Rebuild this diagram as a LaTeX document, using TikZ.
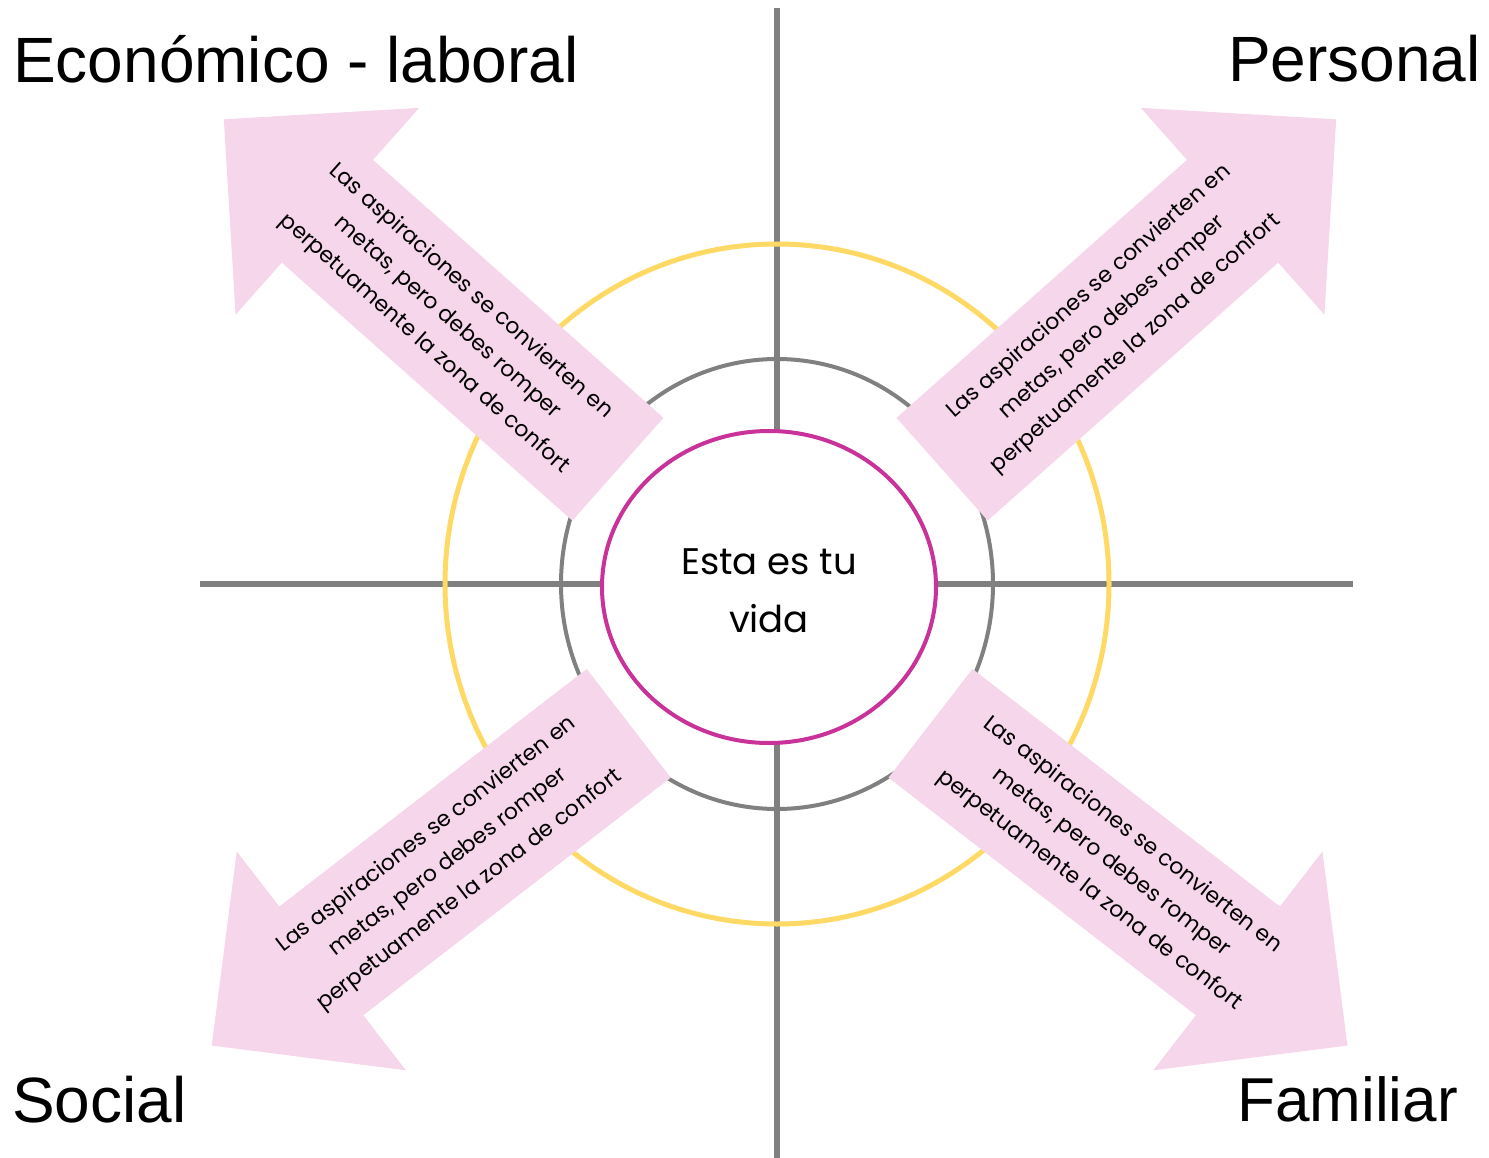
\documentclass[tikz,border=0pt]{standalone}
\usepackage{fontspec}
\setmainfont{Liberation Sans}
\newfontfamily\poppins{Poppins}
\definecolor{armpink}{RGB}{245,214,234}
\definecolor{ringgold}{RGB}{255,217,102}
\definecolor{ringgray}{RGB}{128,128,128}
\definecolor{coremagenta}{RGB}{200,50,153}
\tikzset{
  axisline/.style={ringgray, line width=6},
  armtext/.style={font=\poppins\fontsize{22}{35}\selectfont, align=center, inner sep=0},
  coretext/.style={font=\poppins\fontsize{37}{58}\selectfont, align=center, inner sep=0},
  areatext/.style={font=\fontsize{64}{70}\selectfont, inner sep=0}
}
\begin{document}
\begin{tikzpicture}[x=1pt, y=-1pt, line join=round]
\def\sw{68.7}   % half shaft width
\def\hw{138.3}  % half head width
\def\sl{388.5}  % shaft length
\def\al{527}    % whole length
\useasboundingbox (0,0) rectangle (1489,1158);
\path
(777,584) coordinate (O)
(769,587) coordinate (C)
(777,8) coordinate (N) (777,1158) coordinate (S)
(200,584) coordinate (W) (1353,584) coordinate (E)
;
% axes and rings
\draw[axisline] (N)--(S) (W)--(E);
\draw[ringgold, line width=5] (O) ellipse [x radius=332, y radius=340];
\draw[ringgray, line width=4] (O) ellipse [x radius=216, y radius=225];
% the four arrows
\foreach \x/\y/\r/\t/\n in {617.9/469.2/138.4/-41.6/armEL, 942.1/469.2/41.6/41.6/armPE,
  628.7/723.3/217.7/37.7/armSO, 930.5/723.3/-37.7/-37.7/armFA}
{
\begin{scope}[shift={(\x,\y)}, rotate=\r]
\fill[armpink] (0,-\sw)--(\sl,-\sw)--(\sl,-\hw)--(\al,0)--(\sl,\hw)--(\sl,\sw)--(0,\sw)--cycle;
\node[armtext, rotate=\t] (\n) at (228,0) {Las aspiraciones se convierten en\\metas, pero debes romper\\perpetuamente la zona de confort};
\end{scope}
}
% core
\draw[coremagenta, line width=4, fill=white] (C) ellipse [x radius=167, y radius=156];
\node[coretext] (vida) at (769,591) {Esta es tu\\vida};
% area names
\node[areatext, anchor=base west] (eco) at (13,83) {Económico - laboral};
\node[areatext, anchor=base east] (per) at (1481,82) {Personal};
\node[areatext, anchor=base west] (soc) at (12,1122) {Social};
\node[areatext, font=\fontsize{62}{70}\selectfont, anchor=base east] (fam) at (1458,1121) {Familiar};
\end{tikzpicture}
\end{document}
